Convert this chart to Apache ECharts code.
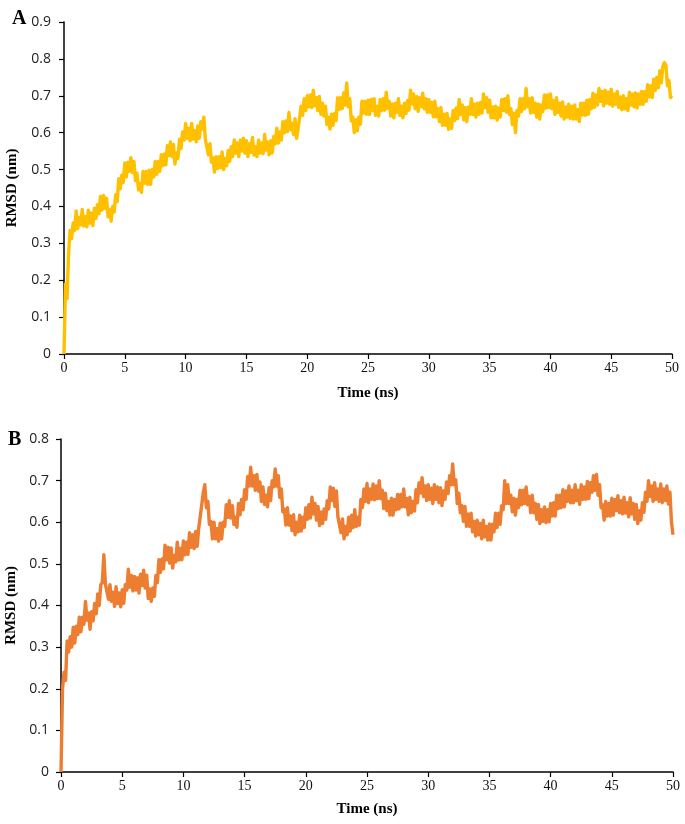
<!DOCTYPE html>
<html>
<head>
<meta charset="utf-8">
<script src="https://cdn.jsdelivr.net/npm/echarts@6/dist/echarts.min.js"></script>
<style>
html,body{margin:0;padding:0;background:#fff;}
#chart{width:685px;height:824px;}
</style>
</head>
<body>
<div id="chart"></div>
<script>
// Sampling step of the trajectories (ns)
var timeStep = 0.125;
var xTicks = [0,5,10,15,20,25,30,35,40,45,50];

// Panel A RMSD (nm), one value every 0.125 ns from 0 to 50 ns (16 values = 2 ns per row)
var rmsdA = [
0.00,0.19,0.15,0.27,0.335,0.313,0.355,0.335,0.388,0.34,0.37,0.35,0.392,0.347,0.372,0.345,
0.39,0.355,0.382,0.348,0.395,0.368,0.405,0.38,0.428,0.39,0.43,0.395,0.422,0.372,0.392,0.36,
0.40,0.385,0.432,0.413,0.475,0.448,0.485,0.465,0.518,0.48,0.52,0.495,0.532,0.492,0.522,0.47,
0.49,0.445,0.462,0.438,0.495,0.463,0.495,0.46,0.498,0.46,0.50,0.48,0.522,0.487,0.522,0.495,
0.54,0.51,0.542,0.513,0.565,0.538,0.575,0.535,0.568,0.515,0.545,0.53,0.582,0.557,0.602,0.58,
0.625,0.585,0.612,0.578,0.625,0.583,0.605,0.575,0.618,0.585,0.63,0.61,0.642,0.582,0.582,0.54,
0.57,0.52,0.532,0.493,0.535,0.503,0.535,0.505,0.548,0.50,0.53,0.51,0.552,0.522,0.562,0.535,
0.58,0.545,0.572,0.535,0.58,0.55,0.585,0.545,0.578,0.535,0.57,0.547,0.587,0.539,0.562,0.535,
0.58,0.545,0.572,0.543,0.595,0.553,0.575,0.54,0.578,0.545,0.59,0.57,0.612,0.572,0.602,0.58,
0.63,0.60,0.632,0.603,0.655,0.608,0.625,0.595,0.638,0.585,0.61,0.61,0.672,0.647,0.692,0.66,
0.70,0.67,0.702,0.668,0.715,0.673,0.695,0.66,0.698,0.65,0.68,0.645,0.672,0.622,0.642,0.61,
0.65,0.62,0.652,0.633,0.695,0.663,0.695,0.665,0.708,0.675,0.735,0.67,0.692,0.632,0.642,0.60,
0.635,0.605,0.642,0.623,0.685,0.653,0.685,0.65,0.688,0.65,0.69,0.66,0.692,0.647,0.672,0.645,
0.69,0.66,0.692,0.661,0.71,0.666,0.685,0.645,0.678,0.64,0.68,0.655,0.692,0.647,0.672,0.64,
0.68,0.652,0.687,0.661,0.715,0.678,0.705,0.665,0.698,0.658,0.695,0.67,0.707,0.665,0.692,0.655,
0.69,0.655,0.682,0.643,0.685,0.643,0.665,0.63,0.668,0.62,0.65,0.62,0.652,0.609,0.637,0.612,
0.66,0.633,0.667,0.638,0.69,0.65,0.675,0.635,0.668,0.63,0.67,0.65,0.692,0.649,0.677,0.642,
0.68,0.65,0.682,0.653,0.705,0.668,0.695,0.655,0.688,0.64,0.67,0.64,0.672,0.634,0.667,0.642,
0.69,0.66,0.692,0.656,0.70,0.65,0.665,0.622,0.653,0.60,0.66,0.645,0.692,0.657,0.692,0.665,
0.72,0.67,0.692,0.653,0.695,0.655,0.68,0.642,0.678,0.637,0.675,0.657,0.702,0.667,0.702,0.668,
0.705,0.665,0.687,0.65,0.695,0.655,0.68,0.645,0.683,0.637,0.67,0.642,0.677,0.639,0.672,0.637,
0.675,0.637,0.662,0.63,0.68,0.648,0.68,0.647,0.688,0.65,0.69,0.665,0.707,0.669,0.702,0.675,
0.72,0.685,0.712,0.673,0.715,0.68,0.71,0.677,0.718,0.672,0.705,0.677,0.712,0.669,0.697,0.662,
0.70,0.665,0.692,0.66,0.71,0.675,0.705,0.67,0.708,0.667,0.705,0.677,0.712,0.677,0.712,0.685,
0.73,0.697,0.727,0.695,0.745,0.715,0.75,0.722,0.768,0.735,0.78,0.79,0.782,0.727,0.742,0.695,
0.70
];

// Panel B RMSD (nm), one value every 0.125 ns from 0 to 50 ns (16 values = 2 ns per row)
var rmsdB = [
0.00,0.20,0.24,0.22,0.315,0.288,0.325,0.30,0.348,0.31,0.35,0.33,0.372,0.337,0.372,0.355,
0.41,0.365,0.382,0.343,0.385,0.363,0.405,0.38,0.428,0.40,0.45,0.455,0.522,0.452,0.452,0.415,
0.45,0.41,0.432,0.398,0.445,0.405,0.43,0.397,0.438,0.405,0.45,0.437,0.487,0.444,0.472,0.435,
0.47,0.437,0.467,0.43,0.475,0.448,0.485,0.442,0.473,0.417,0.44,0.41,0.442,0.422,0.472,0.455,
0.51,0.48,0.512,0.488,0.545,0.51,0.54,0.502,0.538,0.49,0.52,0.505,0.552,0.509,0.537,0.51,
0.555,0.522,0.552,0.523,0.575,0.54,0.57,0.537,0.578,0.542,0.585,0.585,0.642,0.672,0.69,0.635,
0.65,0.595,0.602,0.56,0.60,0.56,0.585,0.555,0.598,0.56,0.60,0.59,0.642,0.612,0.652,0.61,
0.64,0.595,0.612,0.588,0.645,0.618,0.655,0.63,0.678,0.655,0.71,0.687,0.732,0.687,0.712,0.677,
0.715,0.675,0.697,0.65,0.685,0.643,0.665,0.637,0.683,0.652,0.70,0.685,0.728,0.687,0.712,0.66,
0.68,0.625,0.632,0.593,0.635,0.593,0.615,0.58,0.618,0.57,0.60,0.577,0.617,0.579,0.612,0.587,
0.635,0.607,0.642,0.61,0.66,0.62,0.645,0.605,0.638,0.592,0.625,0.597,0.632,0.607,0.652,0.632,
0.685,0.652,0.682,0.638,0.675,0.613,0.615,0.575,0.608,0.56,0.59,0.57,0.612,0.579,0.617,0.587,
0.63,0.59,0.612,0.593,0.655,0.635,0.68,0.65,0.693,0.647,0.68,0.655,0.692,0.654,0.687,0.657,
0.70,0.657,0.677,0.633,0.67,0.628,0.65,0.617,0.658,0.617,0.655,0.63,0.667,0.632,0.667,0.637,
0.68,0.637,0.657,0.618,0.66,0.623,0.65,0.627,0.678,0.647,0.695,0.67,0.707,0.662,0.687,0.652,
0.69,0.655,0.682,0.645,0.69,0.655,0.685,0.647,0.683,0.64,0.675,0.655,0.697,0.669,0.712,0.69,
0.74,0.69,0.702,0.645,0.67,0.623,0.64,0.602,0.638,0.59,0.62,0.59,0.622,0.577,0.602,0.567,
0.605,0.57,0.597,0.56,0.605,0.565,0.59,0.557,0.596,0.557,0.595,0.577,0.622,0.587,0.622,0.595,
0.64,0.63,0.70,0.645,0.69,0.645,0.665,0.625,0.658,0.617,0.655,0.635,0.677,0.642,0.677,0.645,
0.685,0.642,0.662,0.623,0.665,0.623,0.645,0.607,0.643,0.597,0.63,0.602,0.637,0.599,0.63,0.601,
0.645,0.615,0.647,0.615,0.665,0.633,0.665,0.635,0.678,0.637,0.675,0.65,0.687,0.647,0.677,0.647,
0.69,0.652,0.677,0.643,0.69,0.655,0.685,0.655,0.698,0.657,0.695,0.672,0.712,0.677,0.715,0.665,
0.69,0.635,0.642,0.605,0.65,0.615,0.645,0.615,0.658,0.617,0.655,0.628,0.664,0.623,0.652,0.62,
0.66,0.622,0.647,0.613,0.659,0.62,0.645,0.607,0.643,0.597,0.628,0.605,0.647,0.624,0.672,0.65,
0.70,0.662,0.687,0.65,0.695,0.655,0.68,0.65,0.692,0.647,0.68,0.652,0.687,0.644,0.672,0.60,
0.57
];

function toPairs(arr){
  return arr.map(function(v,i){ return [i*timeStep, v]; });
}

var chart = echarts.init(document.getElementById('chart'), null, {renderer:'canvas'});

var serif = '"Liberation Serif","Times New Roman",serif';
var sans = '"Open Sans","DejaVu Sans",sans-serif';

function xAxisCfg(gridIndex, gap){
  return {
    type:'value', gridIndex:gridIndex, min:0, max:50, interval:5,
    name:'Time (ns)', nameLocation:'middle', nameGap:gap,
    nameTextStyle:{fontFamily:serif, fontWeight:'bold', fontSize:15, color:'#000'},
    axisLine:{show:true, onZero:false, lineStyle:{color:'#000', width:1.5}},
    axisTick:{show:true, length:5, lineStyle:{color:'#000', width:1.2}},
    axisLabel:{fontFamily:serif, fontSize:14, color:'#111', margin:7},
    splitLine:{show:false}
  };
}
function yAxisCfg(gridIndex, max, gap, margin){
  return {
    type:'value', gridIndex:gridIndex, min:0, max:max, interval:0.1,
    name:'RMSD (nm)', nameLocation:'middle', nameGap:gap, nameRotate:90,
    nameTextStyle:{fontFamily:serif, fontWeight:'bold', fontSize:15, color:'#000'},
    axisLine:{show:true, lineStyle:{color:'#000', width:1.5}},
    axisTick:{show:true, length:5, lineStyle:{color:'#000', width:1.2}},
    axisLabel:{fontFamily:sans, fontSize:14, color:'#222', margin:margin},
    splitLine:{show:false}
  };
}

chart.setOption({
  animation:false,
  backgroundColor:'#fff',
  title:[
    {text:'A', left:7, top:4, textStyle:{fontFamily:serif, fontWeight:'bold', fontSize:20, color:'#000'}},
    {text:'B', left:3, top:425, textStyle:{fontFamily:serif, fontWeight:'bold', fontSize:20, color:'#000'}}
  ],
  grid:[
    {left:64, right:13, top:22, height:332, containLabel:false, outerBoundsMode:'none'},
    {left:61, right:12, top:439, height:333, containLabel:false, outerBoundsMode:'none'}
  ],
  xAxis:[xAxisCfg(0, 32), xAxisCfg(1, 30)],
  yAxis:[yAxisCfg(0, 0.9, 44, 13), yAxisCfg(1, 0.8, 41, 12)],
  series:[
    {type:'line', xAxisIndex:0, yAxisIndex:0, data:toPairs(rmsdA), showSymbol:false, symbol:'none',
     sampling:null, lineStyle:{color:'#FFC000', width:3.4, join:'round'}, z:2},
    {type:'line', xAxisIndex:1, yAxisIndex:1, data:toPairs(rmsdB), showSymbol:false, symbol:'none',
     sampling:null, lineStyle:{color:'#ED7D31', width:3.4, join:'round'}, z:2}
  ]
});
</script>
</body>
</html>
